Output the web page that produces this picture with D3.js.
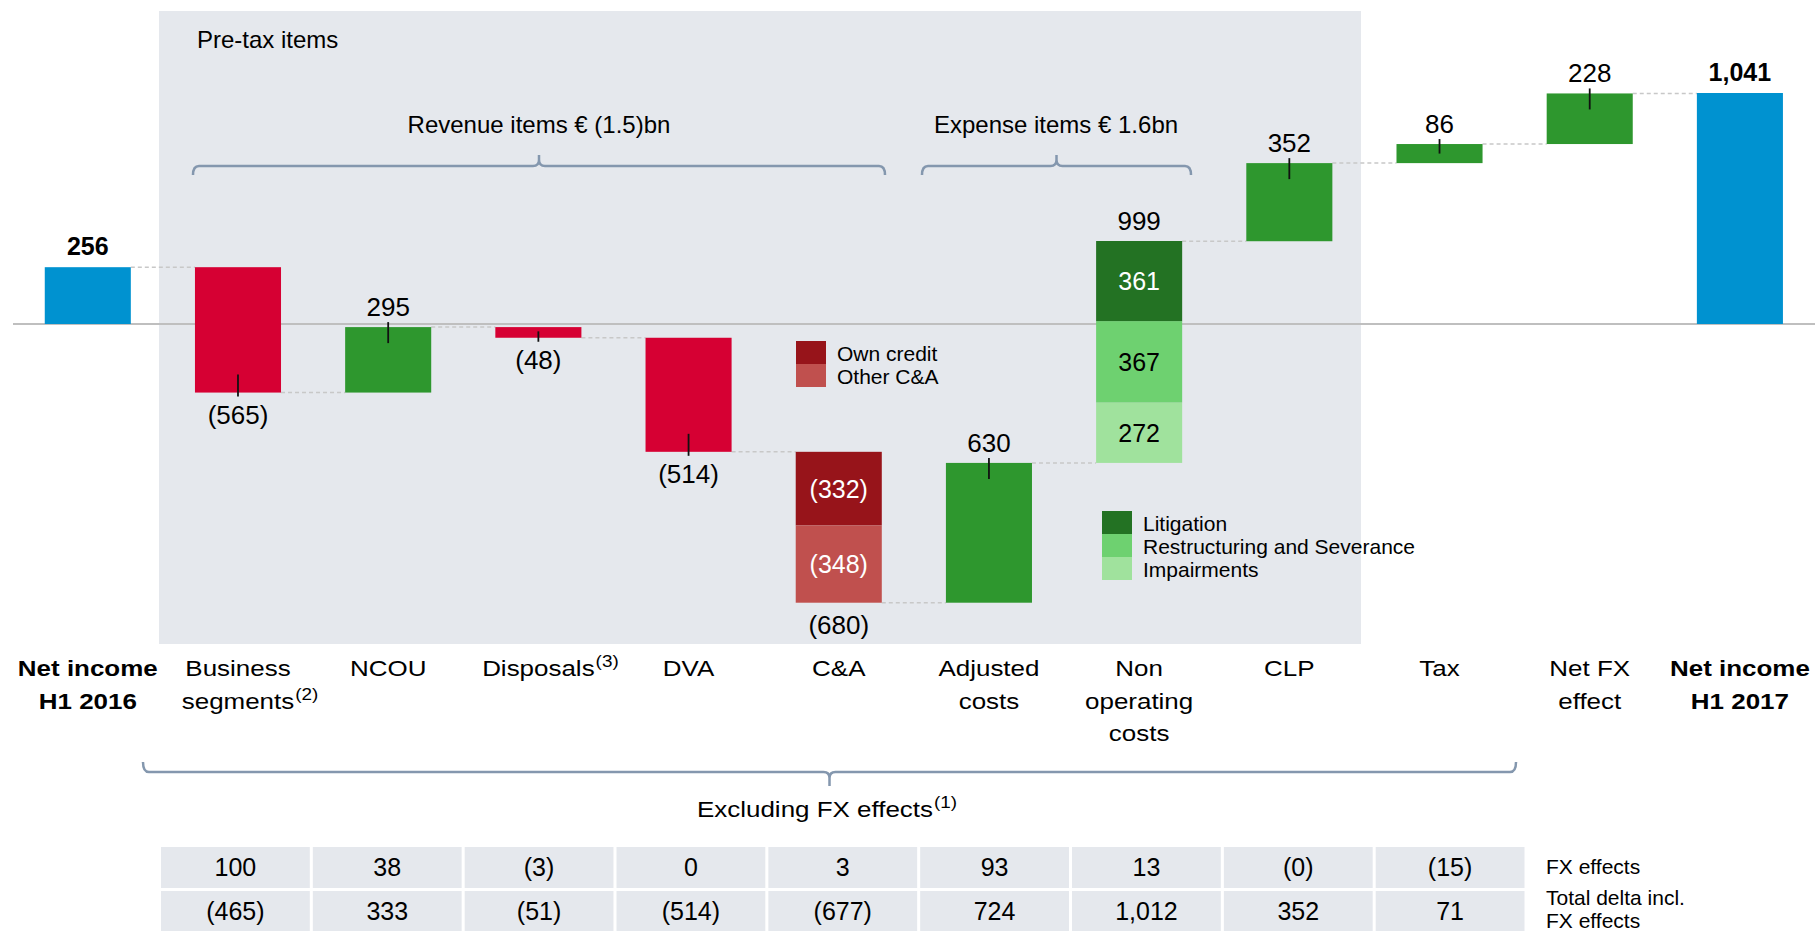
<!DOCTYPE html>
<html>
<head>
<meta charset="utf-8">
<script src="https://cdn.jsdelivr.net/npm/d3@7"></script>
<style>
  html, body { margin: 0; padding: 0; background: #fff; }
  svg { display: block; font-family: "Liberation Sans", Arial, sans-serif; }
</style>
</head>
<body>
<svg id="chart" width="1815" height="931"></svg>
<script>
// ---- data ----
var categories = ["Net income H1 2016", "Business segments", "NCOU", "Disposals", "DVA", "C&A",
  "Adjusted costs", "Non operating costs", "CLP", "Tax", "Net FX effect", "Net income H1 2017"];
var labelLines = [["Net income", "H1 2016"], ["Business", "segments"], ["NCOU"], ["Disposals"], ["DVA"], ["C&A"],
  ["Adjusted", "costs"], ["Non", "operating", "costs"], ["CLP"], ["Tax"], ["Net FX", "effect"], ["Net income", "H1 2017"]];
var footnotes = ["", "(2)", "", "(3)", "", "", "", "", "", "", "", ""];
var values = [256, -565, 295, -48, -514, -680, 630, 999, 352, 86, 228, 1041];

var caNames = ["Own credit", "Other C&A"];
var caParts = [-332, -348];
var nonOpNames = ["Impairments", "Restructuring and Severance", "Litigation"];
var nonOpParts = [272, 367, 361];

var tableCols = ["Business segments", "NCOU", "Disposals", "DVA", "C&A", "Adjusted costs", "Non operating costs", "CLP", "Tax"];
var fxEffects = [100, 38, -3, 0, 3, 93, 13, -0, -15];
var totalDelta = [-465, 333, -51, -514, -677, 724, 1012, 352, 71];
var rowLabels = [["FX effects"], ["Total delta incl.", "FX effects"]];

// ---- styles ----
var BLUE = "#0092d0", RED = "#d60033", GREEN = "#2e972e";
var caColors = ["#97141a", "#c0504e"];
var nonOpColors = ["#a0e29d", "#6ed170", "#237223"];
var PANEL = "#e5e8ed", BRACKET = "#8497ae";
var sx = 1.18; // category labels are drawn a bit wide

var svg = d3.select("#chart");

var x = d3.scaleBand()
  .domain(categories)
  .range([12.7, 1815])
  .paddingInner(0.427)
  .paddingOuter(0.2135);
var bw = x.bandwidth();

var y = d3.scaleLinear().domain([0, 1041]).range([324, 93]);

function fmt(v) {
  var s = d3.format(",")(Math.abs(v));
  return (v < 0 || Object.is(v, -0)) ? "(" + s + ")" : s;
}

// waterfall steps
var bars = [];
var run = 0;
values.forEach(function(v, i) {
  var total = (i === 0 || i === values.length - 1);
  var s = total ? 0 : run;
  var e = total ? v : run + v;
  run = e;
  bars.push({ cat: categories[i], value: v, start: s, end: e, total: total, i: i });
});

// pre-tax panel
svg.append("rect")
  .attr("x", 159).attr("y", 11).attr("width", 1202).attr("height", 633)
  .attr("fill", PANEL);
svg.append("text").attr("x", 197).attr("y", 48)
  .style("font-size", "24px").text("Pre-tax items");

// zero line
svg.append("line")
  .attr("x1", 13).attr("x2", 1815)
  .attr("y1", y(0)).attr("y2", y(0))
  .style("stroke", "#bfbfbf").style("stroke-width", 2);

// connectors
for (var i = 0; i < bars.length - 1; i++) {
  svg.append("line")
    .attr("x1", x(bars[i].cat) + bw).attr("x2", x(bars[i + 1].cat))
    .attr("y1", y(bars[i].end)).attr("y2", y(bars[i].end))
    .style("stroke", "#c8c8c8").style("stroke-width", 1.5)
    .style("stroke-dasharray", "4,3");
}

// bars
var plain = bars.filter(function(d) { return d.i !== 5 && d.i !== 7; });
svg.append("g").selectAll("rect")
  .data(plain)
  .enter()
  .append("rect")
  .attr("x", function(d) { return x(d.cat); })
  .attr("width", bw)
  .attr("y", function(d) { return y(Math.max(d.start, d.end)); })
  .attr("height", function(d) { return Math.abs(y(d.start) - y(d.end)); })
  .attr("fill", function(d) {
    if (d.total) return BLUE;
    return d.value < 0 ? RED : GREEN;
  });

// stacked bars
function stack(bar, parts, colors, textColors) {
  var base = bar.start;
  parts.forEach(function(p, k) {
    var a = base, b = base + p;
    var top = y(Math.max(a, b)), bot = y(Math.min(a, b));
    svg.append("rect")
      .attr("x", x(bar.cat)).attr("width", bw)
      .attr("y", top).attr("height", bot - top)
      .attr("fill", colors[k]);
    svg.append("text")
      .attr("x", x(bar.cat) + bw / 2).attr("y", (top + bot) / 2 + 9)
      .attr("text-anchor", "middle")
      .style("font-size", "25px").style("fill", textColors[k])
      .text(fmt(p));
    base = b;
  });
}
stack(bars[5], caParts, caColors, ["#fff", "#fff"]);
stack(bars[7], nonOpParts, nonOpColors, ["#000", "#000", "#fff"]);

// ticks + value labels
bars.forEach(function(d) {
  var cx = x(d.cat) + bw / 2;
  var h = Math.abs(y(d.start) - y(d.end));
  var stacked = (d.i === 5 || d.i === 7);
  if (d.total) {
    svg.append("text").attr("x", cx).attr("y", y(d.end) - 12)
      .attr("text-anchor", "middle")
      .style("font-size", "25px").style("font-weight", "bold")
      .text(fmt(d.value));
    return;
  }
  if (d.value > 0) {
    var yt = y(d.end);
    if (!stacked) {
      svg.append("line").attr("x1", cx).attr("x2", cx)
        .attr("y1", yt - 5).attr("y2", yt + Math.min(16, h / 2))
        .style("stroke", "#111").style("stroke-width", 1.8);
    }
    svg.append("text").attr("x", cx).attr("y", yt - 11)
      .attr("text-anchor", "middle").style("font-size", "26px")
      .text(fmt(d.value));
  } else {
    var yb = y(d.end);
    if (!stacked) {
      svg.append("line").attr("x1", cx).attr("x2", cx)
        .attr("y1", yb - Math.min(18, h * 0.6)).attr("y2", yb + 4)
        .style("stroke", "#111").style("stroke-width", 1.8);
    }
    svg.append("text").attr("x", cx).attr("y", yb + 31)
      .attr("text-anchor", "middle").style("font-size", "26px")
      .text(fmt(d.value));
  }
});

// legends
function legend(names, colors, x0, y0, tx, order) {
  order.forEach(function(k, j) {
    svg.append("rect").attr("x", x0).attr("y", y0 + j * 23)
      .attr("width", 30).attr("height", 23).attr("fill", colors[k]);
    svg.append("text").attr("x", tx).attr("y", y0 + j * 23 + 20)
      .style("font-size", "21px").text(names[k]);
  });
}
legend(caNames, caColors, 796, 341, 837, [0, 1]);
legend(nonOpNames, nonOpColors, 1102, 511, 1143, [2, 1, 0]);

// wide text helper
function wideText(xp, yp, str, size, weight, anchor) {
  return svg.append("text")
    .attr("transform", "translate(" + xp + "," + yp + ") scale(" + sx + ",1)")
    .attr("text-anchor", anchor || "middle")
    .style("font-size", size + "px")
    .style("font-weight", weight || "normal")
    .text(str);
}

// category labels
labelLines.forEach(function(lines, i) {
  var cx = x(categories[i]) + bw / 2;
  var bold = (i === 0 || i === categories.length - 1) ? "bold" : "normal";
  lines.forEach(function(line, j) {
    var ly = 676 + j * 32.5;
    var t = wideText(cx, ly, line, 22, bold);
    if (j === lines.length - 1 && footnotes[i]) {
      var w = t.node().getComputedTextLength() * sx;
      wideText(cx + w / 2 + 1, ly - 9, footnotes[i], 16, "normal", "start");
    }
  });
});

// brackets
function bracket(x0, x1, yl, ye, yt) {
  var xc = (x0 + x1) / 2, r = 6;
  var dirT = yt > yl ? 1 : -1;
  var p = d3.path();
  p.moveTo(x0, ye);
  p.quadraticCurveTo(x0, yl, x0 + r, yl);
  p.lineTo(xc - r, yl);
  p.quadraticCurveTo(xc, yl, xc, yl + dirT * Math.min(r, Math.abs(yt - yl)));
  p.lineTo(xc, yt);
  p.moveTo(xc, yl + dirT * Math.min(r, Math.abs(yt - yl)));
  p.quadraticCurveTo(xc, yl, xc + r, yl);
  p.lineTo(x1 - r, yl);
  p.quadraticCurveTo(x1, yl, x1, ye);
  svg.append("path").attr("d", p.toString())
    .attr("fill", "none").style("stroke", BRACKET).style("stroke-width", 2.5);
}
bracket(193, 885, 166, 175, 155);
bracket(922, 1191, 166, 175, 155);
svg.append("text").attr("x", 539).attr("y", 133).attr("text-anchor", "middle")
  .style("font-size", "24px").text("Revenue items € (1.5)bn");
svg.append("text").attr("x", 1056).attr("y", 133).attr("text-anchor", "middle")
  .style("font-size", "24px").text("Expense items € 1.6bn");

bracket(143, 1516, 772, 762, 786);
var ex = wideText(815, 817, "Excluding FX effects", 22, "normal");
var exw = ex.node().getComputedTextLength() * sx;
wideText(815 + exw / 2 + 1, 808, "(1)", 16, "normal", "start");

// table
var tx = d3.scaleBand().domain(tableCols).range([161, 1524.5]).paddingInner(0.02).paddingOuter(0);
var rowY = [847, 891], rowH = [41, 42], rowBase = [876, 919.5];
[fxEffects, totalDelta].forEach(function(row, r) {
  svg.append("g").selectAll("rect")
    .data(row)
    .enter()
    .append("rect")
    .attr("x", function(d, k) { return tx(tableCols[k]); })
    .attr("y", rowY[r])
    .attr("width", tx.bandwidth())
    .attr("height", rowH[r])
    .attr("fill", PANEL);
  svg.append("g").selectAll("text")
    .data(row)
    .enter()
    .append("text")
    .attr("x", function(d, k) { return tx(tableCols[k]) + tx.bandwidth() / 2; })
    .attr("y", rowBase[r])
    .attr("text-anchor", "middle")
    .style("font-size", "25px")
    .text(function(d) { return fmt(d); });
});
var rlBase = [[874], [905, 928]];
rowLabels.forEach(function(lines, r) {
  lines.forEach(function(line, j) {
    svg.append("text").attr("x", 1546).attr("y", rlBase[r][j])
      .style("font-size", "21px").text(line);
  });
});
</script>
</body>
</html>
